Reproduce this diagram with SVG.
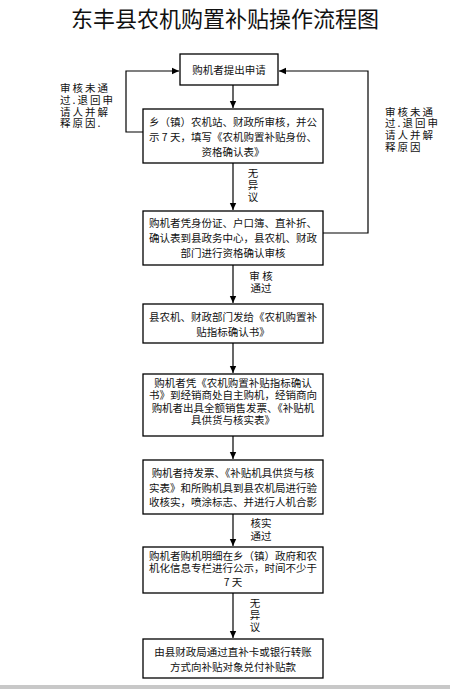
<svg xmlns="http://www.w3.org/2000/svg" width="450" height="689" viewBox="0 0 450 689">
<style>
.box{fill:#fff;stroke:#000;stroke-width:1.3}
.t{font-family:"Noto Sans CJK SC","Noto Sans CJK JP",sans-serif;font-size:10.5px;fill:#111;text-anchor:middle}
.n{font-family:"Noto Sans CJK SC","Noto Sans CJK JP",sans-serif;font-size:10.5px;fill:#111;letter-spacing:2px}
.l{font-family:"Noto Sans CJK SC","Noto Sans CJK JP",sans-serif;font-size:10.5px;fill:#111;text-anchor:middle}
.c{fill:none;stroke:#000;stroke-width:1.2}
</style>
<defs>
<marker id="a" markerWidth="8" markerHeight="8" refX="7" refY="4" orient="auto" markerUnits="userSpaceOnUse">
<path d="M0,0.8 L7,4 L0,7.2 Z" fill="#000"/>
</marker>
</defs>
<rect width="450" height="689" fill="#fff"/>
<rect x="0" y="685" width="450" height="4" fill="#c8c8c8"/>
<text x="225" y="27" font-family="'Noto Sans CJK SC',sans-serif" font-size="22" text-anchor="middle" fill="#111">东丰县农机购置补贴操作流程图</text>

<g id="connectors">
<path class="c" d="M233,85 V108" marker-end="url(#a)"/>
<path class="c" d="M233,163 V210" marker-end="url(#a)"/>
<path class="c" d="M233,265 V303" marker-end="url(#a)"/>
<path class="c" d="M233,343 V373" marker-end="url(#a)"/>
<path class="c" d="M233,436 V459" marker-end="url(#a)"/>
<path class="c" d="M233,514 V546" marker-end="url(#a)"/>
<path class="c" d="M233,593 V638" marker-end="url(#a)"/>
<path class="c" d="M143,132 H126 V71 H179" marker-end="url(#a)"/>
<path class="c" d="M323,233 H368 V71 H279" marker-end="url(#a)"/>
<text class="l" x="253" y="177">无</text>
<text class="l" x="253" y="189">异</text>
<text class="l" x="253" y="201">议</text>
<text class="l" x="261" y="280">审 核</text>
<text class="l" x="261" y="292">通过</text>
<text class="l" x="261" y="527">核实</text>
<text class="l" x="261" y="540">通过</text>
<text class="l" x="255" y="607">无</text>
<text class="l" x="255" y="619">异</text>
<text class="l" x="255" y="631">议</text>
</g>

<g id="note-left">
<text class="n" x="60" y="92">审核未通</text>
<text class="n" x="60" y="104">过.退回申</text>
<text class="n" x="60" y="116">请人并解</text>
<text class="n" x="60" y="127">释原因.</text>
</g>
<g id="note-right">
<text class="n" x="385" y="116">审核未通</text>
<text class="n" x="385" y="127">过.退回申</text>
<text class="n" x="385" y="139">请人并解</text>
<text class="n" x="385" y="151">释原因</text>
</g>

<g id="n1">
<rect class="box" x="180" y="54" width="98" height="31"/>
<text class="t" x="229" y="74">购机者提出申请</text>
</g>
<g id="n2">
<rect class="box" x="143" y="109" width="180" height="54"/>
<text class="t" x="233" y="126">乡（镇）农机站、财政所审核，并公</text>
<text class="t" x="233" y="141">示 7 天，填写《农机购置补贴身份、</text>
<text class="t" x="233" y="156">资格确认表》</text>
</g>
<g id="n3">
<rect class="box" x="143" y="211" width="180" height="54"/>
<text class="t" x="233" y="227">购机者凭身份证、户口簿、直补折、</text>
<text class="t" x="233" y="242">确认表到县政务中心，县农机、财政</text>
<text class="t" x="233" y="257">部门进行资格确认审核</text>
</g>
<g id="n4">
<rect class="box" x="143" y="304" width="180" height="39"/>
<text class="t" x="233" y="321">县农机、财政部门发给《农机购置补</text>
<text class="t" x="233" y="336">贴指标确认书》</text>
</g>
<g id="n5">
<rect class="box" x="143" y="374" width="180" height="62"/>
<text class="t" x="233" y="387">购机者凭《农机购置补贴指标确认</text>
<text class="t" x="233" y="399">书》到经销商处自主购机，经销商向</text>
<text class="t" x="233" y="412">购机者出具全额销售发票、《补贴机</text>
<text class="t" x="233" y="424">具供货与核实表》</text>
</g>
<g id="n6">
<rect class="box" x="143" y="460" width="180" height="54"/>
<text class="t" x="233" y="477">购机者持发票、《补贴机具供货与核</text>
<text class="t" x="233" y="492">实表》和所购机具到县农机局进行验</text>
<text class="t" x="233" y="506">收核实，喷涂标志、并进行人机合影</text>
</g>
<g id="n7">
<rect class="box" x="143" y="547" width="180" height="46"/>
<text class="t" x="233" y="560">购机者购机明细在乡（镇）政府和农</text>
<text class="t" x="233" y="572">机化信息专栏进行公示，时间不少于</text>
<text class="t" x="233" y="586">7 天</text>
</g>
<g id="n8">
<rect class="box" x="143" y="639" width="180" height="39"/>
<text class="t" x="233" y="656">由县财政局通过直补卡或银行转账</text>
<text class="t" x="233" y="671">方式向补贴对象兑付补贴款</text>
</g>
</svg>
